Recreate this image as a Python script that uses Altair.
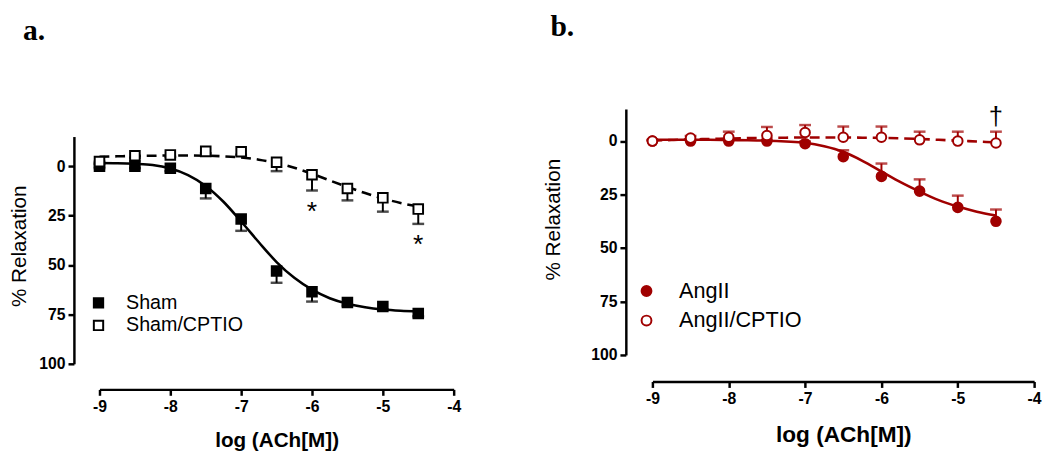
import altair as alt
import pandas as pd

# ---- data ----
log_ach = [-9, -8.5, -8, -7.5, -7, -6.5, -6, -5.5, -5, -4.5]

sham = [0, 0, 1, 11.3, 26.7, 53, 63.5, 69, 71, 74.5]
sham_err = [1, 1, 1.5, 5, 6, 6, 5, 1.5, 1.5, 1.5]
sham_cptio = [-2.3, -5.3, -5.7, -7.5, -7.3, -2, 4.3, 11.3, 16, 21.7]
sham_cptio_err = [1, 1, 1, 1, 1.5, 4.5, 8, 6, 7, 7.5]

angii = [0, 0, 0, 0, 1.2, 7.3, 16.5, 23.4, 31, 37.5]
angii_err = [0.5, 0.5, 0.5, 0.5, 1, 3, 6, 5.5, 5.5, 5.5]
angii_cptio = [0, -1.4, -1.8, -2.6, -4, -1.8, -1.8, -0.6, 0, 0.9]
angii_cptio_err = [0.5, 1, 2.6, 4, 3.5, 5, 5, 3.8, 4.4, 5.3]

# fitted curves
fit_x = [-9, -8.75, -8.5, -8.25, -8, -7.75, -7.5, -7.25, -7, -6.75,
         -6.5, -6.25, -6, -5.75, -5.5, -5.25, -5, -4.75, -4.5]
sham_fit = [-1.6, -1.5, -1.2, -0.6, 1.2, 4.5, 10.0, 18.0, 28.0, 38.5,
            48.5, 56.5, 62.5, 66.8, 69.6, 71.4, 72.5, 73.1, 73.4]
sham_cptio_fit = [-4.8, -5.0, -5.2, -5.3, -5.4, -5.4, -5.3, -5.0, -4.4, -3.3,
                  -1.6, 0.8, 3.8, 7.2, 10.5, 13.6, 16.3, 18.6, 20.4]
angii_fit = [-0.6, -0.6, -0.6, -0.6, -0.5, -0.4, -0.2, 0.2, 0.8, 2.4,
             5.0, 9.2, 14.2, 19.2, 23.6, 27.6, 30.6, 33.0, 34.8]
angii_cptio_fit = [-0.2, -0.5, -0.8, -1.0, -1.2, -1.4, -1.5, -1.6, -1.7, -1.7,
                   -1.7, -1.6, -1.5, -1.3, -1.0, -0.6, -0.2, 0.2, 0.6]

# significance marks
a_mark_x = [-6, -4.5]
a_mark_y = [20.8, 37.7]
a_mark_text = ["*", "*"]
b_mark_x = [-4.5]
b_mark_y = [-11]
b_mark_text = ["\u2020"]

x_ticks = [-9, -8, -7, -6, -5, -4]
y_ticks = [0, 25, 50, 75, 100]

RED = "#a00000"
FONT = "Liberation Sans"


def panel(name1, v1, e1, f1, name2, v2, e2, f2, sign, color, shape,
          marks_x, marks_y, marks_text, w, h, y_range, off, label, title_off,
          title_dx, legend_x, legend_y, legend_row, legend_font, legend_sym,
          legend_off, ytitle_y, ytitle_size, ytitle_pad, xtitle_size,
          xtitle_pad, mark_size, mark_dy):
    pts = pd.DataFrame({
        "x": log_ach + log_ach,
        "y": v1 + v2,
        "err": e1 + e2,
        "series": [name1] * len(log_ach) + [name2] * len(log_ach),
    })
    pts["y2"] = pts["y"] + sign * pts["err"]
    fits = pd.DataFrame({
        "x": fit_x + fit_x,
        "y": f1 + f2,
        "series": [name1] * len(fit_x) + [name2] * len(fit_x),
    })
    marks = pd.DataFrame({"x": marks_x, "y": marks_y, "t": marks_text})

    xs = alt.Scale(domain=[-9, -4], nice=False, zero=False)
    ys = alt.Scale(domain=[-15, 100], range=y_range, nice=False, zero=False)
    xaxis = alt.Axis(values=x_ticks, title="log (ACh[M])", offset=off,
                     labelExpr="'' + datum.value", titleFontSize=xtitle_size,
                     titleFontWeight="bold", titlePadding=xtitle_pad)
    yaxis = alt.Axis(values=y_ticks, title="% Relaxation", offset=off,
                     titleFontSize=ytitle_size, titleFontWeight="normal",
                     titlePadding=ytitle_pad, titleY=ytitle_y)
    X = alt.X("x:Q", scale=xs, axis=xaxis)
    Y = alt.Y("y:Q", scale=ys, axis=yaxis)

    base_f = alt.Chart(fits)
    line1 = base_f.transform_filter(alt.datum.series == name1).mark_line(
        color=color, strokeWidth=2.6, interpolate="monotone").encode(x=X, y=Y)
    line2 = base_f.transform_filter(alt.datum.series == name2).mark_line(
        color=color, strokeWidth=2.6, strokeDash=[10, 6],
        interpolate="monotone").encode(x=X, y=Y)

    base_p = alt.Chart(pts)
    bars = base_p.mark_rule(color=color, strokeWidth=2).encode(
        x=X, y=Y, y2="y2:Q")
    caps = base_p.mark_tick(color=color, orient="horizontal", size=12,
                            thickness=2.5).encode(
        x=X, y=alt.Y("y2:Q", scale=ys, axis=yaxis))
    points = base_p.mark_point(shape=shape, filled=True, size=95,
                               stroke=color, strokeWidth=2,
                               opacity=1).encode(
        x=X, y=Y,
        fill=alt.Fill("series:N",
                      scale=alt.Scale(domain=[name1, name2],
                                      range=[color, "white"]),
                      legend=alt.Legend(
                          title=None, orient="none", legendX=legend_x,
                          legendY=legend_y, rowPadding=legend_row,
                          labelFontSize=legend_font, labelFont=FONT,
                          labelColor="black", labelOffset=legend_off,
                          symbolType=shape, symbolSize=legend_sym,
                          symbolStrokeColor=color, symbolStrokeWidth=2)))
    text = alt.Chart(marks).mark_text(font=FONT, fontSize=mark_size,
                                      color="black", baseline="middle",
                                      dy=mark_dy).encode(
        x=X, y=Y, text="t:N")

    return alt.layer(line1, line2, bars, caps, points, text).properties(
        width=w, height=h,
        title=alt.TitleParams(label, anchor="start", frame="bounds",
                              font="Liberation Serif", fontSize=30,
                              fontWeight="bold", offset=title_off,
                              dx=title_dx, color="black"))


pa = panel("Sham", sham, sham_err, sham_fit,
           "Sham/CPTIO", sham_cptio, sham_cptio_err, sham_cptio_fit,
           1, "black", "square", a_mark_x, a_mark_y, a_mark_text,
           360, 259, [28, 259], 26, "a.", 64, 15,
           -11, 187, 3, 20, 90, 18, 139, 21, 10, 21, 16, 27, 5)
pb = panel("AngII", angii, angii_err, angii_fit,
           "AngII/CPTIO", angii_cptio, angii_cptio_err, angii_cptio_fit,
           -1, RED, "circle", b_mark_x, b_mark_y, b_mark_text,
           388, 250, [0, 250], 27, "b.", 64, 8,
           -17, 174, 8, 22, 100, 22, 112, 21, 28, 23, 18, 26, 0)

chart = alt.hconcat(pa, pb, spacing=82).resolve_scale(
    x="independent", y="independent", fill="independent"
).resolve_legend(fill="independent").properties(
    padding={"left": 0, "top": 0, "right": 0, "bottom": 0}
).configure_view(stroke=None).configure_axis(
    grid=False, domainColor="black", domainWidth=2.5, tickColor="black",
    tickWidth=2.5, tickSize=6, labelFont=FONT, labelFontSize=16,
    labelFontWeight="bold", labelColor="black", labelPadding=3,
    titleFont=FONT, titleColor="black", labelFlush=False
)

chart.save("out.html", embed_options={"renderer": "svg", "actions": False})
